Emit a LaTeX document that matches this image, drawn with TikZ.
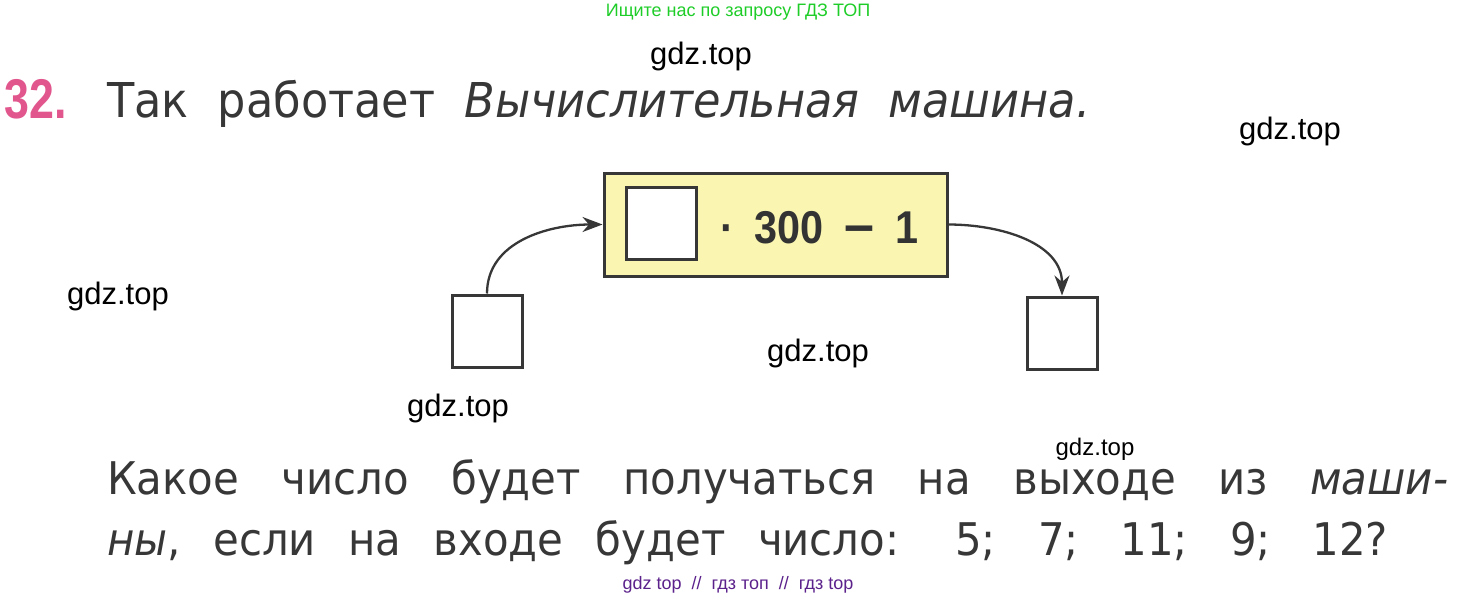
\documentclass[tikz,border=0pt]{standalone}
\usepackage{fontspec}
\setmainfont{Liberation Sans}
\newfontfamily\bookfont[FakeStretch=0.93]{DejaVu Sans}
\newfontfamily\exprfont[FakeStretch=0.9]{Liberation Sans}
\newfontfamily\numfont[FakeStretch=0.8]{Liberation Sans}
\usetikzlibrary{arrows.meta}
\definecolor{ink}{RGB}{55,55,55}
\definecolor{numpink}{RGB}{226,86,142}
\definecolor{machinefill}{RGB}{250,246,178}
\definecolor{boxline}{RGB}{55,55,55}
\definecolor{adgreen}{RGB}{30,205,40}
\definecolor{adpurple}{RGB}{92,34,140}
\tikzset{
  wmark/.style={inner sep=0pt, text=black, font=\fontsize{31}{31}\selectfont},
  textline/.style={inner sep=0pt, anchor=base west, text=ink},
  slot/.style={draw=boxline, line width=3pt, fill=white, inner sep=0pt,
    minimum width=70pt, minimum height=72pt},
  machine/.style={draw=boxline, line width=3pt, fill=machinefill, inner sep=0pt,
    minimum width=343pt, minimum height=103pt},
  feed/.style={draw=boxline, line width=2.3pt, -{Stealth[length=20pt,width=15pt]}}
}
\begin{document}
\begin{tikzpicture}[x=1pt,y=-1pt]
\useasboundingbox (0,0) rectangle (1478,600);
\fill[white] (0,0) rectangle (1478,600);
% ads and watermarks
\node[inner sep=0pt, text=adgreen, font=\fontsize{18}{18}\selectfont] (adtop) at (738,12) {Ищите нас по запросу ГДЗ ТОП};
\node[inner sep=0pt, text=adpurple, font=\fontsize{18}{18}\selectfont] (adbot) at (738,585) {gdz top~~//~~гдз топ~~//~~гдз top};
\node[wmark] (wm1) at (701,56) {gdz.top};
\node[wmark] (wm2) at (1290,131) {gdz.top};
\node[wmark] (wm3) at (118,296) {gdz.top};
\node[wmark] (wm4) at (818,353) {gdz.top};
\node[wmark] (wm5) at (458,408) {gdz.top};
\node[wmark, font=\fontsize{24}{24}\selectfont] (wm6) at (1095,449) {gdz.top};
% heading
\node[textline, text=numpink, font=\numfont\bfseries\fontsize{56}{56}\selectfont] (num) at (4,118) {32.};
\node[textline, font=\bookfont\fontsize{48}{48}\selectfont] (title) at (107,117)
  {\makebox[983pt][s]{Так работает \textit{Вычислительная машина.}}};
% machine
\node[machine] (box) at (775.5,224.5) {};
\node[slot] (slot) at (661,223) {};
\node[textline, text=black!80, font=\exprfont\bfseries\fontsize{46}{46}\selectfont] (expr) at (720,243)
  {\makebox[198pt][s]{· 300 \scalebox{1.3}[1.2]{–} 1}};
\node[slot] (in) at (487,331) {};
\node[slot] (out) at (1062,333) {};
\draw[feed] (in.north) to[out=90,in=180] (box.west);
\draw[feed] (box.east) to[out=0,in=90] (out.north);
% question
\node[textline, font=\bookfont\fontsize{45}{45}\selectfont] (q1) at (107,494)
  {\makebox[1341pt][s]{Какое число будет получаться на выходе из \textit{маши-}}};
\node[textline, font=\bookfont\fontsize{45}{45}\selectfont] (q2) at (107,555)
  {\makebox[1281pt][s]{\textit{ны},\ если на входе будет число: 5; 7; 11; 9; 12?}};
\end{tikzpicture}
\end{document}
